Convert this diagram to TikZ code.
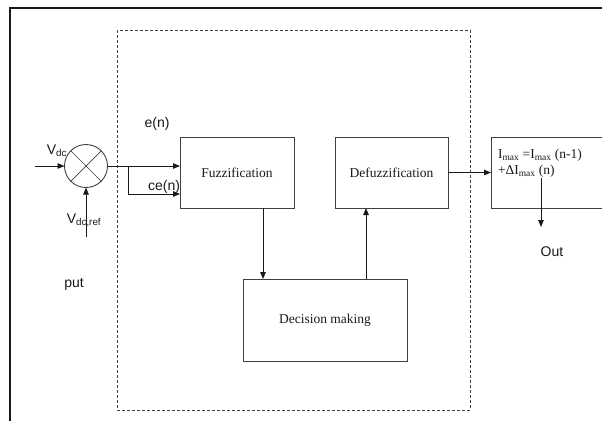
\documentclass[tikz,border=0pt]{standalone}
\usepackage{fontspec}
\setmainfont{Liberation Serif}
\setsansfont{Liberation Sans}
\usetikzlibrary{arrows.meta,positioning}
\definecolor{ink}{gray}{0.10}
\definecolor{rule}{gray}{0.25}

\begin{document}
\begin{tikzpicture}[x=1pt,y=-1pt,
  every node/.style={inner sep=0pt,outer sep=0pt,text=ink},
  blk/.style={draw=rule,line width=0.9pt,font=\fontsize{13.5}{15}\selectfont},
  lbl/.style={font=\sffamily\fontsize{14}{16}\selectfont},
  flow/.style={draw=ink,line width=0.9pt,-{Triangle[length=7pt,width=5.5pt]}}]
\clip (0,0) rectangle (602,421);

% ---- frame ---------------------------------------------------------------
\draw[ink,line width=2.5pt] (602,8) -- (10,8) -- (10,421);
\draw[rule,line width=0.8pt,dash pattern=on 3pt off 2pt] (117,30) rectangle (470,410);

% ---- summing junction ----------------------------------------------------
\node[draw=rule,line width=0.9pt,circle,minimum size=43pt] (sum) at (86,166) {};
\draw[rule,line width=0.7pt] (sum.north west) -- (sum.south east);
\draw[rule,line width=0.7pt] (sum.north east) -- (sum.south west);
\coordinate (vin) at (35,166);
\coordinate (vref) at (86,237);
\draw[flow] (vin) -- (sum.west);
\draw[flow] (vref) -- (sum.south);
\node[lbl] (vdc) at (57,151) {V\textsubscript{dc}};
\node[lbl] (vdcref) at (84,220) {V\textsubscript{dc,ref}};
\node[lbl] (put) at (74,284) {put};

% ---- fuzzy controller ----------------------------------------------------
\node[blk,minimum width=114pt,minimum height=71pt] (fuzz) at (237,172.5) {\raisebox{-4pt}{Fuzzification}};
\node[blk,minimum width=113pt,minimum height=71pt] (defz) at (391.5,172.5) {\raisebox{-4pt}{Defuzzification}};
\node[blk,minimum width=164pt,minimum height=82pt] (dec) at (325,320) {Decision making};

\coordinate (br) at (128,166);
\draw[flow] (sum.east) -- ([yshift=6.5pt]fuzz.west);
\draw[flow] (br) |- ([yshift=-21.5pt]fuzz.west);
\node[lbl] (en) at (157,124) {e(n)};
\node[lbl] (cen) at (164,187) {ce(n)};

\draw[flow] ([xshift=26pt]fuzz.south) -- ([xshift=26pt]fuzz.south |- dec.north);
\draw[flow] ([xshift=41pt]dec.north) -- ([xshift=41pt]dec.north |- defz.south);

% ---- current limit update ------------------------------------------------
\node[blk,minimum width=135pt,minimum height=71pt] (res) at (558.5,172.5) {};
\node[font=\fontsize{13.5}{16}\selectfont,align=left,anchor=north west] (resTxt) at (498,149)
  {I\textsubscript{max} =I\textsubscript{max} (n-1)\\+ΔI\textsubscript{max} (n)};
\draw[flow] (defz.east) -- (defz.east -| res.west);

\coordinate (outTop) at (541,178);
\coordinate (outEnd) at (541,227);
\draw[flow] (outTop) -- (outEnd);
\node[lbl] (out) at (552,252) {Out};
\end{tikzpicture}
\end{document}
